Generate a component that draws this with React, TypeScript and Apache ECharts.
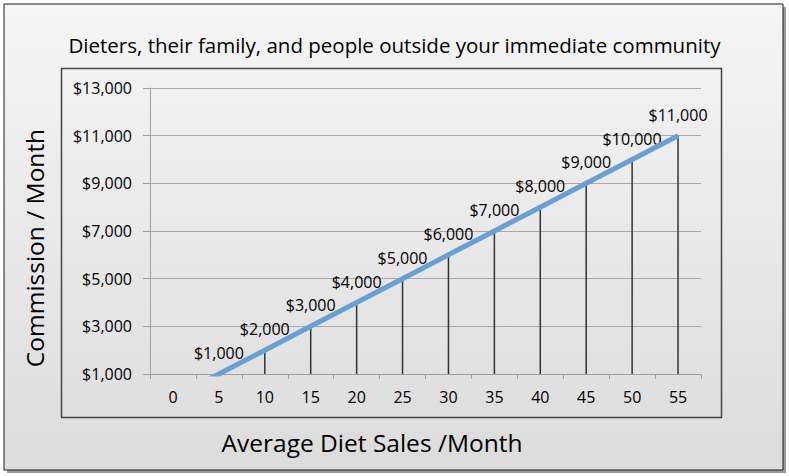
import React, { useEffect, useRef } from "react";
import * as echarts from "echarts";

const titleText = "Dieters, their family, and people outside your immediate community";
const xAxisName = "Average Diet Sales /Month";
const yAxisName = "Commission / Month";
const categories = ["0", "5", "10", "15", "20", "25", "30", "35", "40", "45", "50", "55"];
const commission = [0, 1000, 2000, 3000, 4000, 5000, 6000, 7000, 8000, 9000, 10000, 11000];
const yMin = 1000;
const yMax = 13000;
const yStep = 2000;

const money = (v: number) => "$" + String(v).replace(/\B(?=(\d{3})+(?!\d))/g, ",");

const FONT = "'Open Sans', 'Noto Sans', sans-serif";

export default function App() {
  const ref = useRef<HTMLDivElement>(null);
  useEffect(() => {
    if (!ref.current) return;
    const chart = echarts.init(ref.current, undefined, { renderer: "svg" });
    chart.setOption({
      animation: false,
      backgroundColor: "#ffffff",
      graphic: [
        {
          type: "rect",
          z: -10,
          shape: { x: 7, y: 7, width: 779, height: 466 },
          style: { fill: "#9a9a9a" },
          silent: true,
        },
        {
          type: "rect",
          z: -9,
          shape: { x: 4, y: 4, width: 779, height: 466 },
          style: {
            fill: {
              type: "linear", x: 0, y: 0, x2: 0, y2: 1,
              colorStops: [
                { offset: 0, color: "#f5f5f5" },
                { offset: 1, color: "#dcdcdc" },
              ],
            },
            stroke: "#1a1a1a",
            lineWidth: 1,
          },
          silent: true,
        },
        {
          type: "rect",
          z: -8,
          shape: { x: 61.5, y: 68.5, width: 660, height: 349 },
          style: { fill: "none", stroke: "#444", lineWidth: 1.5 },
          silent: true,
        },
        {
          type: "text",
          x: 372,
          y: 442,
          style: {
            text: xAxisName,
            fontFamily: FONT,
            fontSize: 24.5,
            fill: "#000",
            textAlign: "center",
            textVerticalAlign: "middle",
          },
          silent: true,
        },
        {
          type: "text",
          x: 34,
          y: 248,
          rotation: Math.PI / 2,
          style: {
            text: yAxisName,
            fontFamily: FONT,
            fontSize: 24.5,
            fill: "#000",
            textAlign: "center",
            textVerticalAlign: "middle",
          },
          silent: true,
        },
      ],
      title: {
        text: titleText,
        left: "center",
        top: 29,
        textStyle: { fontFamily: FONT, fontSize: 20.5, fontWeight: "normal", color: "#000" },
      },
      grid: { left: 150, right: 88, top: 88, bottom: 102 },
      xAxis: {
        type: "category",
        data: categories,
        boundaryGap: true,
        axisLine: { show: true, lineStyle: { color: "#a0a0a0", width: 1 } },
        axisTick: { show: true, alignWithLabel: false, length: 5, lineStyle: { color: "#a0a0a0" } },
        axisLabel: { fontFamily: FONT, fontSize: 16, color: "#000", margin: 15 },
        splitLine: { show: false },
      },
      yAxis: {
        type: "value",
        min: yMin,
        max: yMax,
        interval: yStep,
        axisLine: { show: true, lineStyle: { color: "#a0a0a0", width: 1 } },
        axisTick: { show: true, length: 7, lineStyle: { color: "#a0a0a0" } },
        axisLabel: { fontFamily: FONT, fontSize: 16, color: "#000", margin: 18, formatter: (v: number) => money(v) },
        splitLine: { show: true, lineStyle: { color: "#a8a8a8", width: 1 } },
      },
      series: [
        {
          type: "bar",
          data: commission,
          barWidth: 1.5,
          itemStyle: { color: "#333" },
          silent: true,
          z: 1,
          label: {
            show: true,
            position: "top",
            distance: 13,
            fontFamily: FONT,
            fontSize: 16,
            color: "#000",
            formatter: (p: any) => (p.value >= yMin ? money(p.value) : ""),
          },
          labelLayout: { hideOverlap: false },
        },
        {
          type: "line",
          data: commission,
          showSymbol: false,
          symbol: "none",
          lineStyle: { color: "#6a9fd4", width: 5 },
          z: 3,
        },
      ],
    });
    return () => chart.dispose();
  }, []);
  return (
    <div
      ref={ref}
      style={{ position: "absolute", left: 0, top: 0, width: 789, height: 476 }}
    />
  );
}
